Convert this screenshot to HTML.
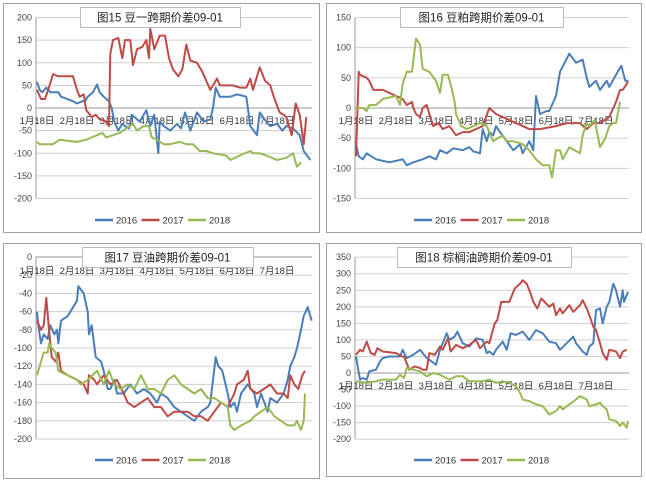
<!DOCTYPE html>
<html><head><meta charset="utf-8"><style>
body{margin:0;background:#fff;width:646px;height:482px;overflow:hidden}
svg{display:block;font-family:"Liberation Sans","Noto Sans CJK SC",sans-serif}
</style></head><body>
<svg id="s" width="646" height="482" viewBox="0 0 646 482"></svg>
<script>
const monthLabels=["1月18日","2月18日","3月18日","4月18日","5月18日","6月18日","7月18日"];
const seriesNames=["2016","2017","2018"];
const c1Ticks=[200,150,100,50,0,-50,-100,-150,-200];
const c2Ticks=[150,100,50,0,-50,-100,-150];
const c3Ticks=[0,-20,-40,-60,-80,-100,-120,-140,-160,-180,-200];
const c4Ticks=[350,300,250,200,150,100,50,0,-50,-100,-150,-200];
const c1_2016=[[0,58],[2,40],[4,35],[7,45],[10,35],[16,35],[18,25],[27,15],[30,10],[34,15],[36,15],[38,25],[42,35],[45,52],[47,35],[50,25],[54,15],[56,0],[58,-30],[61,-50],[64,-35],[66,-40],[69,-45],[71,-15],[75,-25],[77,-30],[82,-5],[85,-40],[88,-15],[91,-100],[92,-30],[95,-40],[100,-50],[105,-35],[108,-45],[111,-10],[115,-50],[120,-10],[125,-30],[130,-25],[132,0],[134,45],[137,25],[145,25],[150,30],[157,25],[160,-40],[165,-60],[167,-10],[172,-30],[175,-40],[180,-35],[184,-50],[187,-40],[192,-45],[197,-60],[200,-95],[205,-115]];
const c1_2017=[[0,40],[3,20],[6,20],[10,55],[12,75],[16,70],[27,70],[30,40],[32,25],[35,30],[37,-5],[41,-20],[44,-15],[47,-25],[52,-30],[54,-40],[55,120],[57,150],[61,155],[64,110],[66,150],[70,150],[72,95],[75,130],[79,135],[82,150],[84,110],[85,175],[88,130],[92,160],[96,160],[99,110],[102,85],[106,70],[109,85],[112,140],[115,105],[120,100],[124,80],[127,60],[130,40],[135,65],[137,50],[147,50],[152,45],[157,45],[160,65],[162,40],[167,90],[171,60],[175,50],[177,30],[180,5],[182,-10],[185,-15],[187,-20],[191,-60],[194,10],[197,-15],[200,-80],[202,-20]];
const c1_2018=[[0,-75],[2,-80],[7,-80],[12,-80],[17,-70],[22,-72],[30,-75],[37,-70],[45,-60],[49,-55],[52,-65],[57,-60],[62,-55],[67,-45],[72,-35],[75,-50],[80,-40],[84,-40],[86,-65],[90,-70],[95,-80],[100,-80],[107,-75],[112,-80],[117,-80],[122,-95],[127,-95],[132,-100],[142,-105],[145,-115],[152,-105],[160,-95],[162,-100],[167,-100],[172,-105],[180,-115],[187,-110],[192,-100],[195,-130],[198,-120]];
const c2_2016=[[0,-60],[2,-80],[5,-85],[8,-75],[15,-85],[25,-90],[35,-85],[38,-95],[43,-90],[50,-85],[55,-80],[60,-85],[63,-70],[68,-75],[73,-67],[80,-70],[85,-65],[88,-72],[93,-75],[95,-35],[98,-55],[100,-40],[103,-45],[105,-30],[108,-40],[113,-55],[118,-70],[123,-60],[125,-75],[130,-55],[133,-70],[135,20],[138,-10],[143,-5],[145,-5],[148,10],[150,20],[153,60],[160,90],[165,75],[170,80],[173,50],[175,35],[180,45],[183,30],[188,45],[190,35],[195,55],[199,70],[202,45],[204,45]];
const c2_2017=[[0,-80],[2,60],[3,55],[8,50],[10,45],[13,30],[15,30],[20,30],[30,20],[35,15],[38,5],[42,10],[43,0],[45,-10],[48,-15],[50,0],[53,5],[55,-10],[58,-30],[62,-25],[65,-35],[70,-30],[75,-45],[80,-40],[85,-40],[90,-35],[95,-30],[100,0],[105,-10],[110,-15],[115,-20],[120,-25],[125,-30],[130,-35],[138,-35],[150,-30],[158,-25],[168,-25],[173,-35],[178,-25],[183,-25],[190,-15],[195,10],[198,30],[200,30],[203,40],[204,45]];
const c2_2018=[[0,0],[5,0],[8,-5],[10,5],[15,5],[20,15],[30,20],[33,5],[35,40],[38,60],[42,60],[45,115],[48,105],[50,65],[55,60],[60,45],[63,25],[65,55],[69,55],[72,30],[74,10],[75,-10],[79,-30],[83,-35],[88,-30],[93,-25],[98,-30],[103,-55],[110,-45],[113,-55],[118,-55],[125,-60],[130,-70],[135,-85],[140,-95],[145,-95],[147,-115],[150,-70],[153,-70],[155,-85],[160,-65],[168,-75],[170,-45],[173,-25],[175,-30],[179,-20],[183,-65],[187,-50],[190,-30],[193,-25],[195,-25],[198,10]];
const c3_2016=[[0,-60],[1,-75],[3,-95],[5,-85],[8,-90],[10,-75],[13,-85],[15,-80],[16,-95],[18,-70],[23,-65],[30,-48],[31,-32],[35,-40],[38,-60],[39,-85],[41,-75],[44,-110],[48,-115],[50,-125],[53,-145],[55,-145],[58,-135],[60,-150],[65,-150],[70,-140],[75,-150],[80,-145],[85,-150],[90,-160],[93,-150],[98,-155],[103,-165],[108,-170],[113,-175],[118,-180],[123,-170],[128,-165],[130,-160],[134,-110],[136,-120],[139,-125],[143,-150],[145,-165],[148,-160],[150,-170],[153,-150],[158,-140],[163,-150],[165,-165],[168,-150],[173,-170],[175,-155],[180,-160],[185,-150],[188,-135],[190,-120],[193,-110],[195,-100],[198,-80],[200,-65],[203,-55],[206,-70]];
const c3_2017=[[0,-70],[3,-80],[5,-75],[7,-45],[9,-80],[11,-110],[14,-115],[16,-105],[18,-125],[23,-130],[30,-135],[35,-140],[38,-150],[39,-130],[43,-135],[45,-140],[50,-130],[55,-140],[60,-135],[65,-150],[68,-160],[73,-165],[78,-160],[83,-155],[88,-165],[93,-165],[98,-175],[103,-170],[108,-170],[113,-170],[118,-175],[123,-175],[128,-180],[133,-170],[138,-160],[143,-165],[148,-150],[150,-140],[155,-135],[158,-125],[160,-145],[165,-150],[170,-145],[175,-140],[180,-150],[185,-150],[188,-155],[190,-130],[193,-140],[196,-145],[199,-130],[201,-125]];
const c3_2018=[[0,-130],[3,-115],[5,-105],[8,-105],[9,-95],[11,-100],[14,-105],[16,-125],[23,-130],[30,-135],[33,-140],[38,-135],[45,-125],[50,-140],[54,-125],[58,-140],[63,-145],[68,-140],[73,-145],[78,-130],[83,-145],[88,-145],[93,-150],[98,-135],[103,-130],[108,-140],[113,-145],[118,-150],[123,-145],[128,-155],[133,-155],[138,-160],[143,-165],[145,-185],[148,-190],[153,-185],[160,-180],[163,-175],[168,-170],[173,-165],[178,-175],[183,-180],[188,-185],[193,-185],[195,-180],[198,-190],[200,-180],[201,-150]];
const c4_2016=[[0,50],[3,-20],[5,-15],[8,-20],[10,5],[15,10],[18,35],[20,45],[25,50],[33,50],[35,70],[38,45],[43,55],[48,70],[50,60],[53,45],[55,40],[60,25],[63,70],[68,120],[70,100],[74,110],[76,125],[80,90],[85,80],[90,105],[95,100],[98,60],[100,65],[103,55],[105,70],[110,95],[113,70],[116,120],[120,115],[125,125],[130,100],[135,130],[140,120],[145,95],[150,90],[153,70],[158,90],[163,110],[165,90],[170,65],[173,55],[175,80],[178,90],[180,190],[183,195],[185,150],[188,200],[190,215],[193,270],[195,250],[198,200],[200,250],[201,215],[204,245]];
const c4_2017=[[0,55],[3,70],[5,65],[8,95],[11,60],[14,55],[16,75],[20,65],[30,60],[35,50],[36,50],[39,20],[40,10],[44,20],[48,15],[50,10],[53,10],[55,60],[59,55],[63,80],[65,70],[69,105],[71,65],[75,85],[80,75],[85,85],[90,100],[93,75],[98,95],[100,90],[104,150],[106,160],[109,215],[115,215],[119,255],[123,270],[125,280],[128,270],[131,240],[133,215],[136,195],[139,225],[145,200],[148,210],[150,175],[153,195],[155,180],[160,205],[163,185],[168,205],[170,220],[173,195],[175,175],[178,140],[180,130],[183,90],[185,60],[188,40],[190,70],[195,65],[198,45],[200,65],[203,70]];
const c4_2018=[[0,-25],[8,-30],[15,-25],[20,-20],[30,-20],[33,-5],[36,-15],[38,15],[43,10],[48,5],[53,-10],[58,0],[63,-5],[70,-20],[75,-10],[80,-10],[85,-25],[95,-25],[100,-20],[105,-30],[110,-25],[115,-30],[120,-40],[123,-60],[125,-80],[130,-85],[135,-95],[140,-100],[145,-125],[150,-115],[153,-100],[155,-110],[160,-95],[165,-80],[168,-70],[173,-80],[175,-100],[180,-95],[183,-90],[185,-100],[188,-110],[190,-140],[195,-145],[198,-160],[200,-150],[203,-165],[204,-145]];

const NS="http://www.w3.org/2000/svg";
const svg=document.getElementById('s');
const colors=["#4a7ebb","#be4b48","#98b954"];
function mk(tag,attrs,parent){const e=document.createElementNS(NS,tag);for(const k in attrs)e.setAttribute(k,attrs[k]);(parent||svg).appendChild(e);return e;}
const charts=[
 {id:"chart15",title:"图15 豆一跨期价差09-01",box:[3,3,316,229],tb:[80,7,160,20],L:36,R:312,zeroY:108,k:181/400,x0:37,ticks:c1Ticks,labY:124,legY:220,legX:95,data:[c1_2016,c1_2017,c1_2018]},
 {id:"chart16",title:"图16 豆粕跨期价差09-01",box:[326,3,315,229],tb:[400,7,163,20],L:355,R:629,zeroY:108,k:181/300,x0:356,ticks:c2Ticks,labY:124,legY:220,legX:414,data:[c2_2016,c2_2017,c2_2018]},
 {id:"chart17",title:"图17 豆油跨期价差09-01",box:[3,243,316,235],tb:[82,247,171,20],L:36,R:312,zeroY:257,k:182/200,x0:37,ticks:c3Ticks,labY:274,legY:460,legX:95,data:[c3_2016,c3_2017,c3_2018]},
 {id:"chart18",title:"图18 棕榈油跨期价差09-01",box:[326,243,315,233],tb:[397,247,174,20],L:355,R:629,zeroY:373,k:182/550,x0:356,ticks:c4Ticks,labY:389,legY:460,legX:414,data:[c4_2016,c4_2017,c4_2018]}
];
const pxDay=40/30;
charts.forEach(c=>{
 const g=mk('g',{});
 
 
 const b=mk('rect',{x:c.box[0]+0.5,y:c.box[1]+0.5,width:c.box[2],height:c.box[3],fill:"#fff",stroke:"#a0a0a0"},g);
 
 
 const Y=v=>c.zeroY-v*c.k, X=d=>c.x0+d*pxDay;
 c.ticks.forEach(t=>{
  const y=Y(t);
  const gl=mk('line',{x1:c.L,x2:c.R,y1:y,y2:y,stroke:"#cfcfcf","stroke-width":1},g);
  
  
  const tx=mk('text',{x:c.L-4,y:y+3,"font-size":9,"text-anchor":"end",fill:"#444"},g);
  tx.textContent=t;
  
  
 });
 const ax=mk('line',{x1:c.L,x2:c.L,y1:Y(c.ticks[0]),y2:Y(c.ticks[c.ticks.length-1]),stroke:"#999"},g);
 
 
 const xa=mk('line',{x1:c.L,x2:c.R,y1:Y(0),y2:Y(0),stroke:"#999"},g);
 
 
 monthLabels.forEach((m,i)=>{
  const tx=mk('text',{x:X(i*30),y:c.labY,"font-size":9.5,"text-anchor":"middle",fill:"#333"},g);
  tx.textContent=m;
  
  
 });
 c.data.forEach((ser,si)=>{
  const p=mk('polyline',{points:ser.map(q=>X(q[0]).toFixed(1)+","+Y(q[1]).toFixed(1)).join(" "),fill:"none",stroke:colors[si],"stroke-width":2,"stroke-linejoin":"round"},g);
  
  
 });
 const tr=mk('rect',{x:c.tb[0]+0.5,y:c.tb[1]+0.5,width:c.tb[2],height:c.tb[3],fill:"#fff",stroke:"#bbb"},g);
 
 
 const tt=mk('text',{x:c.tb[0]+c.tb[2]/2,y:c.tb[1]+14.5,"font-size":11.5,"text-anchor":"middle",fill:"#222"},g);
 tt.textContent=c.title;
 
 
 seriesNames.forEach((n,si)=>{
  const lx=c.legX+si*46.5;
  const ll=mk('line',{x1:lx,x2:lx+18,y1:c.legY,y2:c.legY,stroke:colors[si],"stroke-width":2.5},g);
  
  
  const lt=mk('text',{x:lx+21,y:c.legY+3.5,"font-size":9.5,fill:"#333"},g);
  lt.textContent=n;
  
  
 });
});
</script>
</body></html>
